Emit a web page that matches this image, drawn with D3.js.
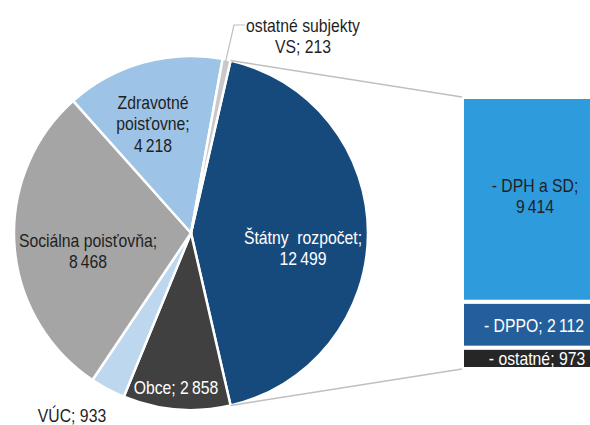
<!DOCTYPE html>
<html>
<head>
<meta charset="utf-8">
<script src="https://cdn.jsdelivr.net/npm/d3@7"></script>
<style>
  body { margin: 0; background: #fff; }
  svg { display: block; }
  text { font-family: "Liberation Sans", Arial, sans-serif; font-size: 19px; }
</style>
</head>
<body>
<svg id="chart" width="590" height="425"></svg>
<script>
// pie slices (clockwise, starting with the split one)
const pieNames = ["Štátny rozpočet", "Obce", "VÚC", "Sociálna poisťovňa", "Zdravotné poisťovne", "ostatné subjekty VS"];
const pieValues = [12499, 2858, 933, 8468, 4218, 213];
const pieColors = ["#174a7c", "#404040", "#bdd7ee", "#a5a5a5", "#9dc3e6", "#c9c9c9"];

// bar breaking down Štátny rozpočet (top to bottom)
const barNames = ["DPH a SD", "DPPO", "ostatné"];
const barValues = [9414, 2112, 973];
const barColors = ["#2e9bdc", "#245f9c", "#262626"];

const fmt = v => d3.format(",")(v).replace(/,/g, "\u2009");

const svg = d3.select("#chart");
const cx = 191, cy = 233, r = 177;

const total = d3.sum(pieValues);
const splitSpan = 2 * Math.PI * pieValues[0] / total;
const start = Math.PI / 2 - splitSpan / 2;

const pie = d3.pie().sort(null).startAngle(start).endAngle(start + 2 * Math.PI);
const arcs = pie(pieValues);
const arc = d3.arc().innerRadius(0).outerRadius(r);

const g = svg.append("g").attr("transform", `translate(${cx},${cy})`);
g.selectAll("path")
  .data(arcs)
  .join("path")
  .attr("d", arc)
  .attr("fill", (d, i) => pieColors[i])
  .attr("stroke", "#fff")
  .attr("stroke-width", 2.5)
  .attr("stroke-linejoin", "round");

// bar
const barX = 462, barW = 146;
const y = d3.scaleLinear().domain([0, d3.sum(barValues)]).range([97, 369]);
const cum = d3.cumsum(barValues);
svg.append("g").selectAll("rect")
  .data(barValues)
  .join("rect")
  .attr("x", barX)
  .attr("y", (d, i) => y(cum[i] - d))
  .attr("width", barW)
  .attr("height", d => y(d) - y(0))
  .attr("fill", (d, i) => barColors[i])
  .attr("stroke", "#fff")
  .attr("stroke-width", 4);

// connector lines
const pt = a => [cx + r * Math.sin(a), cy - r * Math.cos(a)];
const pTop = pt(arcs[0].startAngle), pBot = pt(arcs[0].endAngle);
svg.append("g")
  .attr("stroke", "#bfbfbf")
  .attr("stroke-width", 1.5)
  .selectAll("line")
  .data([[pTop, [barX, y(0)]], [pBot, [barX, y(d3.sum(barValues))]]])
  .join("line")
  .attr("x1", d => d[0][0]).attr("y1", d => d[0][1])
  .attr("x2", d => d[1][0]).attr("y2", d => d[1][1]);

// leader for small slice
const smallMid = (arcs[5].startAngle + arcs[5].endAngle) / 2;
const sp = pt(smallMid);
svg.append("polyline")
  .attr("points", [[sp[0] - 1, sp[1] + 2], [234, 25], [245, 25]].map(p => p.join(",")).join(" "))
  .attr("fill", "none")
  .attr("stroke", "#bfbfbf")
  .attr("stroke-width", 1.2);

// labels: [lines, x, y of first line centre, colour]
const labels = [
  [["Štátny  rozpočet;", fmt(pieValues[0])], 303, 237, "#fff"],
  [["Obce; " + fmt(pieValues[1])], 176, 387, "#fff"],
  [["VÚC; " + fmt(pieValues[2])], 72, 415, "#1f1f1f"],
  [["Sociálna poisťovňa;", fmt(pieValues[3])], 88, 240, "#1f1f1f"],
  [["Zdravotné", "poisťovne;", fmt(pieValues[4])], 153, 102, "#1f1f1f"],
  [["ostatné subjekty", "VS; " + fmt(pieValues[5])], 303, 25, "#1f1f1f"],
  [["- DPH a SD;", fmt(barValues[0])], 535, 185, "#1f1f1f"],
  [["- DPPO; " + fmt(barValues[1])], 534, 325, "#fff"],
  [["- ostatné; " + fmt(barValues[2])], 537, 358, "#fff"]
];

// the reference uses a narrow face; squeeze Liberation Sans horizontally
const squeeze = 0.83;
const lg = svg.append("g");
labels.forEach(([lines, x, y0, col]) => {
  const t = lg.append("g")
    .attr("transform", `translate(${x},${y0}) scale(${squeeze},1)`)
    .append("text")
    .attr("text-anchor", "middle")
    .attr("fill", col)
    .style("white-space", "pre");
  lines.forEach((s, i) => {
    t.append("tspan")
      .attr("x", 0)
      .attr("y", i * 21.5)
      .attr("dy", "0.35em")
      .text(s);
  });
});
</script>
</body>
</html>
